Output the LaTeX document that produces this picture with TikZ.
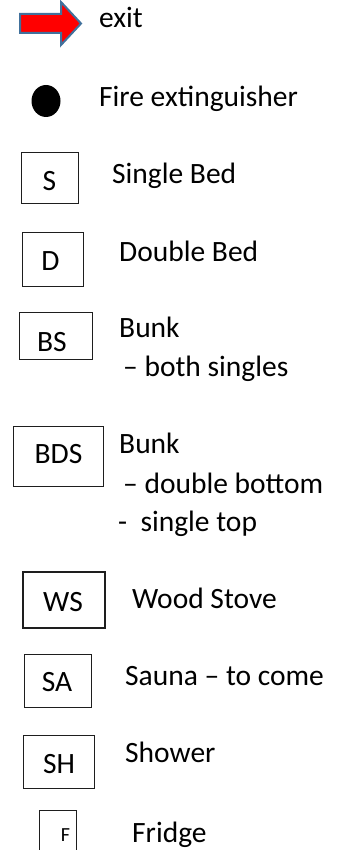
\documentclass[tikz,border=0pt]{standalone}
\usepackage{fontspec}
\setmainfont{Carlito}
\usetikzlibrary{shapes.geometric}
\definecolor{arrowedge}{RGB}{65,113,156}
\definecolor{boxedge}{RGB}{30,30,30}
\tikzset{
  legbox/.style={draw=boxedge, line width=1pt, inner sep=0pt, fill=none},
  boxlab/.style={anchor=base, inner sep=0pt, font=\fontsize{29.5}{35}\selectfont},
  desc/.style={anchor=base west, inner sep=0pt, font=\fontsize{29.5}{35}\selectfont},
}
\begin{document}
\begin{tikzpicture}[x=1pt,y=-1pt]
\useasboundingbox (0,0) rectangle (346,850);
% exit arrow
\path[fill=red, draw=arrowedge, line width=2pt, line join=miter]
  (20,14) -- (61,14) -- (61,2) -- (81,23.5) -- (61,45) -- (61,33) -- (20,33) -- cycle;
\coordinate (arrowtip) at (82,23.5);
\node[desc] (exitt) at (99,28) {exit};
% fire extinguisher
\node[ellipse, fill=black, inner sep=0pt, minimum width=29pt, minimum height=32pt] (dot) at (46,101) {};
\node[desc] (firet) at (99,107) {Fire extinguisher};
% single bed
\node[legbox, minimum width=57pt, minimum height=51pt] (sbox) at (49.5,178.5) {};
\node[boxlab] (slab) at (49.5,191) {S};
\node[desc] (st) at (112,184) {Single Bed};
% double bed
\node[legbox, minimum width=61pt, minimum height=54pt] (dbox) at (52.5,259) {};
\node[boxlab] (dlab) at (50.5,270) {D};
\node[desc] (dt) at (119,261) {Double Bed};
% bunk singles
\node[legbox, minimum width=73pt, minimum height=47pt] (bsbox) at (55.5,335.5) {};
\node[boxlab] (bslab) at (52,351) {BS};
\node[desc] (bst1) at (119,337) {Bunk};
\node[desc] (bst2) at (123,376) {– both singles};
% bunk double
\node[legbox, minimum width=90pt, minimum height=60pt] (bdsbox) at (58,456) {};
\node[boxlab] (bdslab) at (58.5,463) {BDS};
\node[desc] (bdst1) at (119,453) {Bunk};
\node[desc] (bdst2) at (123,493) {– double bottom};
\node[desc] (bdst3) at (118,531) {-\ \ single top};
% wood stove
\node[legbox, line width=1.5pt, minimum width=82pt, minimum height=56pt] (wsbox) at (64,600) {};
\node[boxlab] (wslab) at (63,611) {WS};
\node[desc] (wst) at (132,608) {Wood Stove};
% sauna
\node[legbox, minimum width=67pt, minimum height=53pt] (sabox) at (57.5,680.5) {};
\node[boxlab] (salab) at (57,691) {SA};
\node[desc] (sat) at (125,685) {Sauna – to come};
% shower
\node[legbox, minimum width=71pt, minimum height=53pt] (shbox) at (58.5,761.5) {};
\node[boxlab] (shlab) at (59,773) {SH};
\node[desc] (sht) at (125,762) {Shower};
% fridge
\begin{scope}
\clip (0,0) rectangle (346,850);
\node[legbox, minimum width=37pt, minimum height=50pt] (fbox) at (57.5,835) {};
\end{scope}
\node[boxlab, font=\fontsize{20}{24}\selectfont] (flab) at (65.5,841) {F};
\node[desc] (ft) at (132,842) {Fridge};
\end{tikzpicture}
\end{document}
